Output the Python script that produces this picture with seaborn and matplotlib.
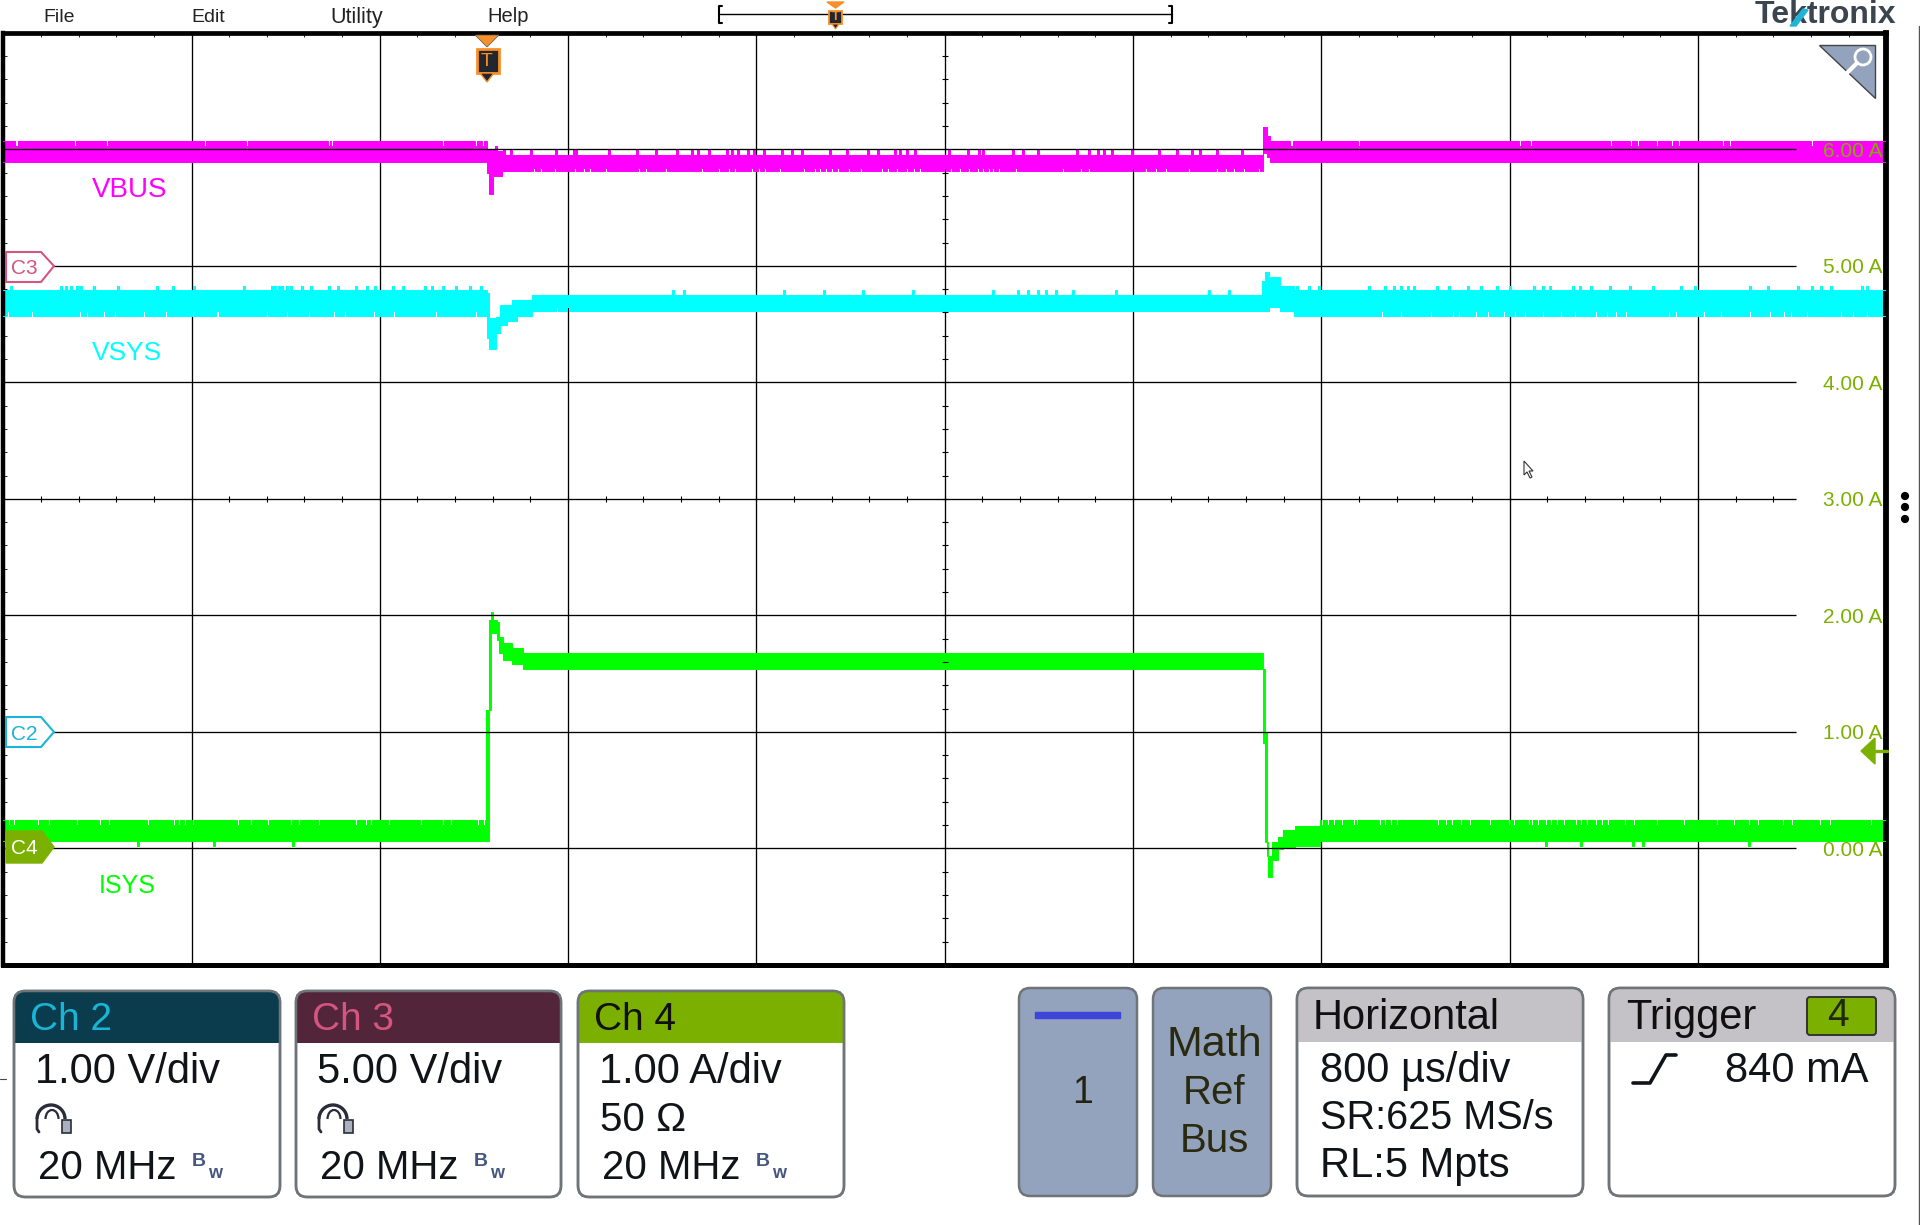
import numpy as np
import pandas as pd
import seaborn as sns
import matplotlib.pyplot as plt
from matplotlib.patches import Polygon, Rectangle, FancyBboxPatch, Circle, Arc

# Scope capture: VBUS / VSYS / ISYS load step, time in us from trigger, level in grid A
T_MIN, T_MAX = -2055, 5945
Y_MIN, Y_MAX = -1, 7
GRID_END = 5561
NOTCH = 9

# ---- VBUS
vbus_t = [-2055, -4, 0, 8, 25, 42, 64, 3297, 3314, 3327, 3352]
vbus_top = [6.07, 6.07, 5.99, 5.99, 5.99, 5.985, 5.95, 6.19, 6.11, 6.07, 6.07]
vbus_bot = [5.89, 5.89, 5.80, 5.62, 5.77, 5.77, 5.81, 5.97, 5.93, 5.89, 5.89]
vbus_top_dips = [-2003, -1756, -1619, -1202, -1024, -675, -664, -191, -51, -21,
                 3414, 3699, 4383, 4430, 4770, 4855, 4885, 4966, 5030, 5060, 5247, 5277, 5626]
vbus_top_bumps = [34, 68, 98, 183, 289, 365, 374, 514, 633, 714, 803,
                  867, 892, 939, 1015, 1037, 1062, 1105, 1130, 1173, 1249, 1292, 1334,
                  1453, 1525, 1614, 1657, 1729, 1750, 1780, 1814, 1959, 2039, 2086, 2103,
                  2230, 2273, 2337, 2502, 2553, 2592, 2617, 2651, 2736, 2851, 2927, 2991,
                  3025, 3097, 3203]
vbus_bot_dips = [195, 225, 285, 370, 408, 433, 501, 641, 671, 756,
                 909, 981, 1024, 1049, 1122, 1151, 1177, 1241, 1343, 1389, 1411, 1436,
                 1461, 1487, 1534, 1585, 1674, 1699, 1738, 1780, 1810, 1835, 1942, 1967,
                 2005, 2044, 2082, 2103, 2128, 2145, 2171, 2243, 2443, 2519, 2553, 2740,
                 2796, 2838, 2880, 2978, 3097, 3135, 3169, 3212, 3275]

# ---- VSYS
vsys_t = [-2055, 0, 8, 38, 55, 85, 106, 127, 191, 3292, 3305, 3322, 3369, 3420, 3428]
vsys_top = [4.79, 4.77, 4.55, 4.56, 4.66, 4.66, 4.71, 4.71, 4.75, 4.87, 4.95, 4.90, 4.83, 4.83, 4.79]
vsys_bot = [4.57, 4.38, 4.29, 4.42, 4.49, 4.53, 4.53, 4.57, 4.61, 4.61, 4.61, 4.65, 4.61, 4.57, 4.57]
vsys_top_bumps = [-2027, -1814, -1793, -1770, -1746, -1731, -1674, -1572, -1406, -1338, -1249,
                  -1037, -918, -903, -888, -875, -854, -837, -790, -752, -675, -637, -561,
                  -514, -480, -404, -361, -268, -238, -191, -136, -76, -30,
                  786, 833, 1258, 1427, 1593, 1806, 2146, 2252, 2294, 2337, 2371, 2413,
                  2485, 2668, 3063, 3148,
                  3437, 3488, 3530, 3743, 3811, 3849, 3879, 3909, 3934, 4032, 4083, 4164,
                  4219, 4287, 4342, 4444, 4482, 4512, 4610, 4639, 4686, 4767, 4852, 4949,
                  5068, 5128, 5362, 5438, 5565, 5625, 5663, 5706, 5837, 5859]
vsys_bot_dips = [-2039, -1937, -1733, -1704, -1631, -1585, -1461, -1368, -1253, -1149, -939,
                 -854, -760, -654, -608, -484, -399, -221, -51, 293, 340,
                 3420, 3798, 3879, 4006, 4100, 4125, 4198, 4249, 4317, 4363, 4406, 4482,
                 4559, 4618, 4707, 4754, 4792, 4835, 5017, 5047, 5136, 5166, 5238, 5362,
                 5447, 5506, 5536, 5604, 5748, 5799, 5859]

# ---- ISYS
isys_t = [-2055, -4, 8, 19, 28, 42, 53, 70, 106, 153, 3297, 3305, 3314, 3318, 3335, 3361, 3382, 3433, 3539]
isys_top = [0.24, 1.19, 1.96, 2.03, 1.96, 1.94, 1.81, 1.76, 1.72, 1.68, 1.54, 1.00, 0.05, -0.07, 0.05, 0.10, 0.16, 0.19, 0.24]
isys_bot = [0.06, 0.06, 1.19, 1.85, 1.85, 1.79, 1.68, 1.62, 1.58, 1.54, 0.90, 0.05, -0.07, -0.25, -0.10, -0.01, 0.00, 0.02, 0.06]
isys_top_dips = [-2035, -2014, -1912, -1865, -1746, -1648, -1610, -1444, -1334, -1313, -1287,
                 -1253, -1062, -1007, -935, -837, -803, -718, -561, -518, -497, -421, -285,
                 -191, -157, -42, -17,
                 3543, 3569, 3594, 3628, 3679, 3692, 3790, 3811, 3836, 3862, 4036, 4070,
                 4096, 4134, 4172, 4257, 4338, 4359, 4423, 4435, 4461, 4495, 4516, 4542,
                 4571, 4622, 4643, 4669, 4707, 4733, 4758, 4831, 4869, 4967, 5081, 5221,
                 5294, 5357, 5396, 5502, 5540, 5659, 5702, 5876]
isys_bot_bumps = [-1487, -1164, -828, 4495, 4643, 4865, 4907, 5357]

grid_levels = [0, 1, 2, 3, 4, 5, 6]
grid_labels = ['0.00 A', '1.00 A', '2.00 A', '3.00 A', '4.00 A', '5.00 A', '6.00 A']

PINK = '#ff00ff'
CYAN = '#00ffff'
GREEN = '#00ff00'
OLIVE = '#7cb000'
SLATE = '#93a2bd'
ORANGE = '#f5902a'
palette = {'VBUS': PINK, 'VSYS': CYAN, 'ISYS': GREEN}


def edge_values(times, seg_t, seg_v, marks):
    vals = np.array(seg_v)[np.searchsorted(seg_t, times, side='right') - 1]
    for mark_t, dv in marks:
        for m in mark_t:
            vals[(times >= m) & (times < m + NOTCH)] += dv
    return vals


def build_trace(name, seg_t, top, bot, top_marks, bot_marks):
    all_marks = [m for group, _ in top_marks + bot_marks for m in group]
    times = sorted(set(seg_t) | set(all_marks) | {m + NOTCH for m in all_marks} | {T_MAX})
    times = np.array(times, dtype=float)
    return pd.DataFrame({'channel': name, 't': times,
                         'top': edge_values(times, seg_t, top, top_marks),
                         'bot': edge_values(times, seg_t, bot, bot_marks)})


traces = [
    build_trace('VBUS', vbus_t, vbus_top, vbus_bot,
                [(vbus_top_dips, -0.045), (vbus_top_bumps, 0.04)], [(vbus_bot_dips, 0.03)]),
    build_trace('VSYS', vsys_t, vsys_top, vsys_bot,
                [(vsys_top_bumps, 0.04)], [(vsys_bot_dips, 0.04)]),
    build_trace('ISYS', isys_t, isys_top, isys_bot,
                [(isys_top_dips, -0.04)], [(isys_bot_bumps, -0.04)]),
]
df = pd.concat(traces, ignore_index=True)
long_df = df.melt(id_vars=['channel', 't'], value_vars=['top', 'bot'], var_name='edge', value_name='level')

sns.set_theme(style='white')
plt.rcParams['font.family'] = ['Liberation Sans', 'DejaVu Sans']

fig = plt.figure(figsize=(19.2, 12.25), dpi=100, facecolor='white')
W, H = 1920, 1225
ax = fig.add_axes([3.2 / W, 1 - 964.8 / H, 1883 / W, 932 / H])

# grid first, traces over it
ax.vlines(np.arange(T_MIN + 800, T_MAX, 800), Y_MIN, Y_MAX, color='black', lw=0.95, zorder=1)
ax.hlines(grid_levels, T_MIN, GRID_END, color='black', lw=0.95, zorder=4)
for d in traces:
    ax.fill_between(d['t'], d['bot'], d['top'], step='post', color=palette[d['channel'].iloc[0]], lw=0, zorder=2)
sns.lineplot(data=long_df, x='t', y='level', hue='channel', units='edge', estimator=None, sort=False,
             palette=palette, drawstyle='steps-post', lw=0.7, legend=False, ax=ax, zorder=3)

center_t = T_MIN + 4000
tick_t = np.arange(T_MIN, GRID_END, 160)
ax.plot(tick_t, [3] * len(tick_t), ls='', marker='|', ms=4.5, mew=0.8, color='black', zorder=4)
ax.plot([center_t] * 41, np.arange(Y_MIN, Y_MAX + 0.01, 0.2), ls='', marker='_', ms=4.5, mew=0.8, color='black', zorder=4)

ax.set_xlim(T_MIN, T_MAX)
ax.set_ylim(Y_MIN, Y_MAX)
ax.set_xlabel('')
ax.set_ylabel('')
ax.set_xticks(np.arange(T_MIN, T_MAX + 1, 160))
ax.set_yticks(np.arange(Y_MIN, Y_MAX + 0.01, 0.2))
ax.tick_params(which='major', direction='in', length=3, width=0.6, color='black',
               top=True, right=False, bottom=False, left=True,
               labelleft=False, labelbottom=False)
for side, lw in {'left': 3.2, 'top': 3.4, 'bottom': 3.6, 'right': 4.2}.items():
    ax.spines[side].set_visible(True)
    ax.spines[side].set_linewidth(lw)
    ax.spines[side].set_color('black')

for lev, lab in zip(grid_levels, grid_labels):
    ax.text(5945 - 17, lev - 0.015, lab, color=OLIVE, fontsize=15, ha='right', va='center', zorder=5)

# overlay in figure pixels for the instrument chrome
ui = fig.add_axes([0, 0, 1, 1], facecolor='none')
ui.set_xlim(0, W)
ui.set_ylim(H, 0)
ui.axis('off')


def label(x, y, s, size=30, color='black', ha='left', **kw):
    ui.text(x, y + 3, s, fontsize=size, color=color, ha=ha, va='center', **kw)


for x, s, sz in [(43, 'File', 14), (191, 'Edit', 14), (330, 'Utility', 15.5), (487, 'Help', 14.5)]:
    label(x, 14, s, size=sz, color='#222222')

label(92, 187, 'VBUS', size=20, color=PINK)
label(92, 350, 'VSYS', size=19, color=CYAN)
label(99, 883, 'ISYS', size=18, color=GREEN)

# Tektronix logo
label(1755, 12, 'Tektronix', size=23, color='#3a4550', fontweight='bold')
ui.add_patch(Polygon([(1790, 26), (1796, 26), (1808, 10), (1803, 9)], color='#1fb5d8', zorder=5))

# horizontal position bar
ui.plot([720, 1172], [14, 14], color='black', lw=1)
ui.plot([722, 719, 719, 722], [6, 6, 23, 23], color='black', lw=1.5)
ui.plot([1169, 1172, 1172, 1169], [6, 6, 23, 23], color='black', lw=1.5)
ui.add_patch(Polygon([(827, 2), (844, 2), (835.5, 8)], color=ORANGE))
ui.add_patch(Rectangle((829, 11), 13, 12.5, fc='#23262e', ec=ORANGE, lw=1.3, zorder=4))
ui.add_patch(Polygon([(832, 24), (839, 24), (835.5, 29)], fc='#23262e', ec=ORANGE, lw=0.8, zorder=4))
ui.text(835.5, 17.5, 'T', fontsize=9, fontweight='bold', color=ORANGE, ha='center', va='center', zorder=5)

# trigger marker
ui.add_patch(Polygon([(475, 35), (499, 35), (487, 47)], fc=ORANGE, ec='#555555', lw=0.5))
ui.add_patch(Rectangle((476.5, 49), 22, 24, fc='#23262e', ec=ORANGE, lw=2))
ui.add_patch(Polygon([(480, 73), (494, 73), (487, 82)], fc='#23262e', ec=ORANGE, lw=1))
ui.text(487, 61, 'T', fontsize=14, color=ORANGE, ha='center', va='center')

# magnifier
ui.add_patch(Polygon([(1819, 45), (1875, 45), (1875, 98)], fc=SLATE, ec='#444444', lw=1))
ui.add_patch(Circle((1863, 57), 8, fc='none', ec='white', lw=2))
ui.plot([1857, 1847], [63, 73], color='white', lw=3)

# channel flags
ui.add_patch(Polygon([(6, 252), (41, 252), (54, 266), (41, 282), (6, 282)], fc='white', ec='#d4557f', lw=1.5))
label(24, 265, 'C3', size=15, color='#d4557f', ha='center')
ui.add_patch(Polygon([(6, 717), (41, 717), (54, 732), (41, 747), (6, 747)], fc='white', ec='#1ab5d6', lw=1.5))
label(24, 731, 'C2', size=15, color='#1ab5d6', ha='center')
ui.add_patch(Polygon([(6, 831), (42, 831), (54, 847), (42, 863), (6, 863)], fc=OLIVE, ec=OLIVE, lw=1))
label(24, 845, 'C4', size=15, color='white', ha='center')

# right side: trigger level arrow, menu dots, edge line
ui.add_patch(Polygon([(1861, 751), (1875, 738), (1875, 764)], color=OLIVE, zorder=6))
ui.plot([1870, 1887], [751, 751], color=OLIVE, lw=2.4, zorder=6)
for y in [496, 507, 519]:
    ui.add_patch(Circle((1905, y), 3.4, color='black'))
ui.plot([1919, 1919], [26, 1225], color='#555555', lw=1)
ui.plot([0, 6], [1079, 1079], color='#444444', lw=0.8)

# mouse pointer
ui.add_patch(Polygon([(1524, 461), (1524, 475), (1527, 472), (1530, 478), (1532, 477), (1529, 471), (1533, 471)],
                     fc='white', ec='#333333', lw=0.8))


def panel(x0, x1, y0, y1, fc='white', header=None, header_y=None):
    box = FancyBboxPatch((x0 + 9, y0 + 9), x1 - x0 - 18, y1 - y0 - 18, boxstyle='round,pad=9,rounding_size=11',
                         fc=fc, ec='#6f7478', lw=1.8, zorder=2)
    ui.add_patch(box)
    if header:
        head = Rectangle((x0, y0), x1 - x0, header_y - y0, fc=header, ec='none', zorder=2.5)
        head.set_clip_path(box)
        ui.add_patch(head)
        box2 = FancyBboxPatch((x0 + 9, y0 + 9), x1 - x0 - 18, y1 - y0 - 18, boxstyle='round,pad=9,rounding_size=11',
                              fc='none', ec='#6f7478', lw=1.8, zorder=2.6)
        ui.add_patch(box2)


def probe(x, y):
    ui.add_patch(Arc((x + 15, y + 14), 28, 28, theta1=180, theta2=360, color='#2a2c3a', lw=2.4, zorder=4))
    ui.add_patch(Arc((x + 16, y + 14), 13, 18, theta1=180, theta2=360, color='#2a2c3a', lw=1.6, zorder=4))
    ui.plot([x + 1, x + 1, x + 3], [y + 14, y + 24, y + 27], color='#2a2c3a', lw=2, zorder=4)
    ui.add_patch(Rectangle((x + 26, y + 15), 9, 13, fc='#aab0bd', ec='#2a2c3a', lw=1.2, zorder=4))


def bw_mark(x, y):
    label(x, y - 7, 'B', size=14, color='#46577f', fontweight='bold', zorder=4)
    label(x + 16, y + 5, 'w', size=13, color='#46577f', fontweight='bold', zorder=4)


channels = [
    (14, 280, 'Ch 2', '#0b3c4d', '#1ab5d6', '1.00 V/div', None),
    (296, 561, 'Ch 3', '#52253b', '#d4557f', '5.00 V/div', None),
    (578, 844, 'Ch 4', OLIVE, '#101010', '1.00 A/div', '50 Ω'),
]
for x0, x1, name, head, col, scale, term in channels:
    panel(x0, x1, 991, 1197, header=head, header_y=1043)
    label(x0 + 16, 1017, name, size=28, color=col, zorder=4)
    label(x0 + 21, 1069, scale, size=30, color='#101418', zorder=4)
    if term:
        label(x0 + 22, 1117, term, size=29, color='#101418', zorder=4)
    else:
        probe(x0 + 22, 1105)
    label(x0 + 24, 1165, '20 MHz', size=29, color='#101418', zorder=4)
    bw_mark(x0 + 178, 1165)

panel(1019, 1137, 988, 1196, fc=SLATE)
ui.add_patch(Rectangle((1035, 1012), 85, 6, color='#3c46d8', zorder=4))
label(1083, 1090, '1', size=27, color='#22240f', ha='center', zorder=4)

panel(1153, 1271, 988, 1196, fc=SLATE)
for y, s, sz in [(1042, 'Math', 31), (1090, 'Ref', 29), (1138, 'Bus', 29)]:
    label(1214, y, s, size=sz, color='#2a2a10', ha='center', zorder=4)

panel(1297, 1583, 988, 1196, header='#c4c2c6', header_y=1042)
label(1313, 1015, 'Horizontal', size=30, color='#101010', zorder=4)
for y, s, sz in [(1068, '800 µs/div', 30), (1115, 'SR:625 MS/s', 28.5), (1163, 'RL:5 Mpts', 30)]:
    label(1320, y, s, size=sz, color='#101418', zorder=4)

panel(1609, 1895, 988, 1196, header='#c4c2c6', header_y=1042)
label(1626, 1015, 'Trigger', size=30, color='#101010', zorder=4)
ui.add_patch(FancyBboxPatch((1809, 999), 65, 34, boxstyle='round,pad=2,rounding_size=3', fc=OLIVE, ec='#333333', lw=1.4, zorder=4))
label(1838, 1013, '4', size=28, color='#20280a', ha='center', zorder=5)
ui.plot([1633, 1650, 1666, 1676], [1083, 1083, 1055, 1055], color='#101418', lw=2.6, zorder=4)
label(1725, 1068, '840 mA', size=30, color='#101418', zorder=4)

fig.savefig('out.png', dpi=100, facecolor='white')
